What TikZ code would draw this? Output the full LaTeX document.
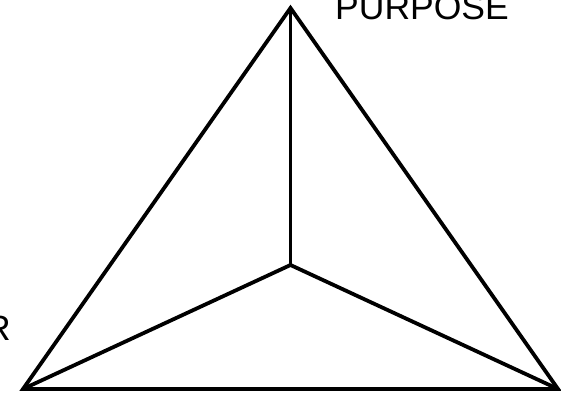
\documentclass[tikz,border=0pt]{standalone}
\usepackage{fontspec}
\setmainfont{Liberation Sans}
\begin{document}
\begin{tikzpicture}[
  x=1pt, y=-1pt,
  edge/.style={draw, line width=3.8pt, line join=miter},
  tag/.style={inner sep=0pt, font=\fontsize{35.5}{40}\selectfont}
]
\useasboundingbox (0,0) rectangle (561,393);
\coordinate (top) at (290.5,8);
\coordinate (left) at (23,389);
\coordinate (right) at (558,389);
\coordinate (mid) at (290.5,265);
\node[tag, anchor=base west] (purpose) at (335,20) {PURPOSE};
\node[tag, anchor=base east] (r) at (11,340) {R};
\draw[edge] (top) -- (left) -- (right) -- cycle;
\draw[edge] (top) -- (mid);
\draw[edge] (left) -- (mid);
\draw[edge] (right) -- (mid);
\end{tikzpicture}
\end{document}
